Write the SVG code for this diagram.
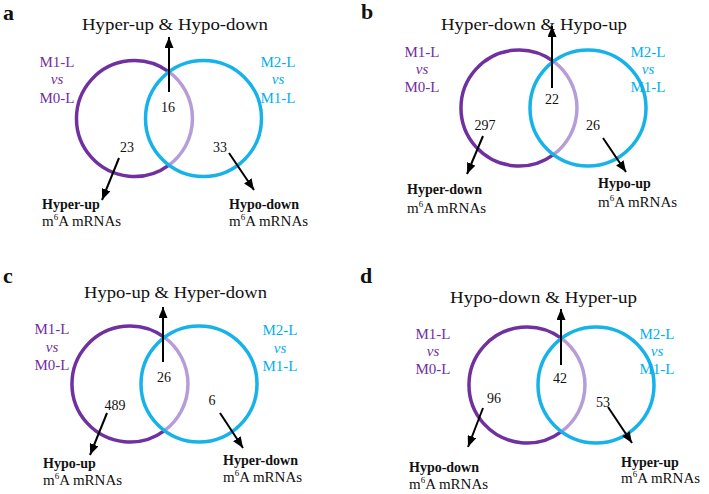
<svg xmlns="http://www.w3.org/2000/svg" width="709" height="494" viewBox="0 0 709 494">
<defs>
<marker id="ah" viewBox="0 0 10 10" refX="10" refY="5" markerWidth="11" markerHeight="9" markerUnits="userSpaceOnUse" orient="auto" preserveAspectRatio="none"><path d="M0,0 L10,5 L0,10 z" fill="#000"/></marker>
<style>
text{font-family:"Liberation Serif","Times New Roman",serif;fill:#111}
.pl{font-weight:bold;font-size:22px}
.ti{font-size:17px}
.pu{fill:#7030a0;font-size:15px;text-anchor:middle}
.bl{fill:#00b0f0;font-size:15px;text-anchor:middle}
.vs{font-style:italic}
.num{font-size:14px;text-anchor:middle}
.h1{font-size:14px;font-weight:bold}
.h2{font-size:15px}
.sup{font-size:9px}
.cp{fill:none;stroke:#7030a0;stroke-width:3.5}
.cb{fill:none;stroke:#17b2ea;stroke-width:3.5}
.cl{fill:none;stroke:#b69dd8;stroke-width:3.5}
.ar{stroke:#000;stroke-width:2;fill:none;marker-end:url(#ah)}
</style>
</defs>
<rect width="709" height="494" fill="#fff"/>

<g id="panel-a">
<text class="pl" x="3" y="20">a</text>
<text class="ti" x="82" y="30" textLength="186" lengthAdjust="spacingAndGlyphs">Hyper-up &amp; Hypo-down</text>
<g id="a-left"><path class="cp" d="M169,71.9 A58,58 0 1 0 169,165.1"/>
<text class="pu" x="57" y="67">M1-L</text><text class="pu vs" x="57" y="84">vs</text><text class="pu" x="57" y="103">M0-L</text>
<text class="num" x="127" y="152">23</text></g>
<g id="a-overlap"><path class="cl" d="M169,71.9 A58,58 0 0 1 169,165.1"/><text class="num" x="168" y="112">16</text></g>
<g id="a-right"><circle class="cb" cx="203.5" cy="118.5" r="58"/>
<text class="bl" x="278" y="67">M2-L</text><text class="bl vs" x="278" y="84">vs</text><text class="bl" x="278" y="103">M1-L</text>
<text class="num" x="220" y="152">33</text></g>
<g id="a-out1"><text class="h1" x="42" y="209">Hyper-up</text><text class="h2" x="42" y="226">m<tspan class="sup" dy="-6">6</tspan><tspan dy="6">A  mRNAs</tspan></text></g>
<g id="a-out2"><text class="h1" x="229" y="209">Hypo-down</text><text class="h2" x="229" y="226">m<tspan class="sup" dy="-6">6</tspan><tspan dy="6">A  mRNAs</tspan></text></g>
</g>

<g id="panel-b">
<text class="pl" x="361" y="19">b</text>
<text class="ti" x="441" y="30" textLength="186" lengthAdjust="spacingAndGlyphs">Hyper-down &amp; Hypo-up</text>
<g id="b-left"><path class="cp" d="M553.5,61.4 A58,58 0 1 0 553.5,154.6"/>
<text class="pu" x="422" y="57">M1-L</text><text class="pu vs" x="422" y="74">vs</text><text class="pu" x="422" y="92">M0-L</text>
<text class="num" x="485" y="130">297</text></g>
<g id="b-overlap"><path class="cl" d="M553.5,61.4 A58,58 0 0 1 553.5,154.6"/><text class="num" x="552" y="104">22</text></g>
<g id="b-right"><circle class="cb" cx="588" cy="108" r="58"/>
<text class="bl" x="648" y="57">M2-L</text><text class="bl vs" x="648" y="74">vs</text><text class="bl" x="648" y="92">M1-L</text>
<text class="num" x="593" y="130">26</text></g>
<g id="b-out1"><text class="h1" x="407" y="194">Hyper-down</text><text class="h2" x="407" y="213">m<tspan class="sup" dy="-6">6</tspan><tspan dy="6">A  mRNAs</tspan></text></g>
<g id="b-out2"><text class="h1" x="598" y="188">Hypo-up</text><text class="h2" x="598" y="207">m<tspan class="sup" dy="-6">6</tspan><tspan dy="6">A  mRNAs</tspan></text></g>
</g>

<g id="panel-c">
<text class="pl" x="3" y="283">c</text>
<text class="ti" x="84" y="298" textLength="183" lengthAdjust="spacingAndGlyphs">Hypo-up &amp; Hyper-down</text>
<g id="c-left"><path class="cp" d="M164.5,337.4 A58,58 0 1 0 164.5,430.6"/>
<text class="pu" x="52" y="334">M1-L</text><text class="pu vs" x="52" y="352">vs</text><text class="pu" x="52" y="370">M0-L</text>
<text class="num" x="115" y="410">489</text></g>
<g id="c-overlap"><path class="cl" d="M164.5,337.4 A58,58 0 0 1 164.5,430.6"/><text class="num" x="164" y="382">26</text></g>
<g id="c-right"><circle class="cb" cx="199" cy="384" r="58"/>
<text class="bl" x="280" y="335">M2-L</text><text class="bl vs" x="280" y="353">vs</text><text class="bl" x="280" y="371">M1-L</text>
<text class="num" x="212" y="405">6</text></g>
<g id="c-out1"><text class="h1" x="43" y="468">Hypo-up</text><text class="h2" x="43" y="485">m<tspan class="sup" dy="-6">6</tspan><tspan dy="6">A  mRNAs</tspan></text></g>
<g id="c-out2"><text class="h1" x="223" y="465">Hyper-down</text><text class="h2" x="223" y="482">m<tspan class="sup" dy="-6">6</tspan><tspan dy="6">A  mRNAs</tspan></text></g>
</g>

<g id="panel-d">
<text class="pl" x="360" y="283">d</text>
<text class="ti" x="450" y="303" textLength="187" lengthAdjust="spacingAndGlyphs">Hypo-down &amp; Hyper-up</text>
<g id="d-left"><path class="cp" d="M561.5,338.4 A58,58 0 1 0 561.5,431.6"/>
<text class="pu" x="433" y="339">M1-L</text><text class="pu vs" x="433" y="356">vs</text><text class="pu" x="433" y="374">M0-L</text>
<text class="num" x="494" y="403">96</text></g>
<g id="d-overlap"><path class="cl" d="M561.5,338.4 A58,58 0 0 1 561.5,431.6"/><text class="num" x="560" y="383">42</text></g>
<g id="d-right"><circle class="cb" cx="596" cy="385" r="58"/>
<text class="bl" x="657" y="339">M2-L</text><text class="bl vs" x="657" y="356">vs</text><text class="bl" x="657" y="374">M1-L</text>
<text class="num" x="603" y="407">53</text></g>
<g id="d-out1"><text class="h1" x="409" y="472">Hypo-down</text><text class="h2" x="409" y="489">m<tspan class="sup" dy="-6">6</tspan><tspan dy="6">A  mRNAs</tspan></text></g>
<g id="d-out2"><text class="h1" x="621" y="467">Hyper-up</text><text class="h2" x="621" y="483">m<tspan class="sup" dy="-6">6</tspan><tspan dy="6">A  mRNAs</tspan></text></g>
</g>

<g id="connectors">
<line class="ar" x1="169" y1="92" x2="169" y2="37"/>
<line class="ar" x1="119" y1="158" x2="102" y2="200"/>
<line class="ar" x1="229" y1="153" x2="254" y2="190"/>
<line class="ar" x1="552" y1="88" x2="552" y2="26"/>
<line class="ar" x1="483" y1="136" x2="467" y2="174"/>
<line class="ar" x1="603" y1="138" x2="626" y2="172"/>
<line class="ar" x1="163" y1="362" x2="163" y2="307"/>
<line class="ar" x1="107" y1="413" x2="90" y2="455"/>
<line class="ar" x1="220" y1="413" x2="243" y2="448"/>
<line class="ar" x1="561" y1="365" x2="561" y2="309"/>
<line class="ar" x1="483" y1="408" x2="468" y2="447"/>
<line class="ar" x1="608" y1="407" x2="632" y2="443"/>
</g>
</svg>
